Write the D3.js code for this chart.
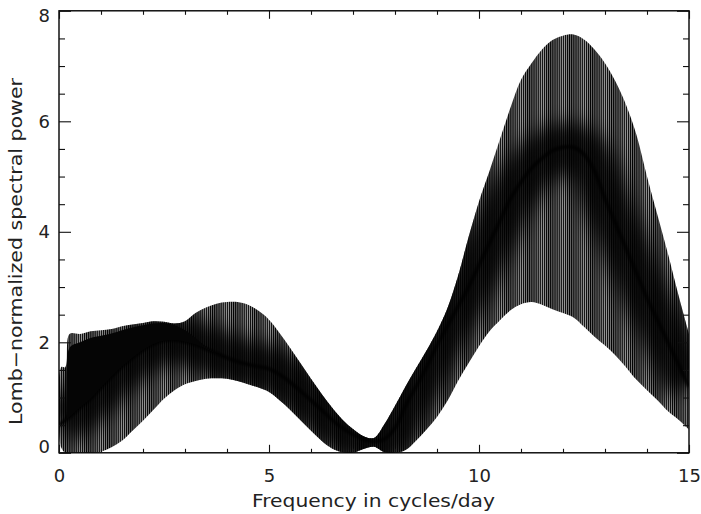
<!DOCTYPE html>
<html><head><meta charset="utf-8">
<script src="https://cdn.jsdelivr.net/npm/d3@7"></script>
<style>body{margin:0;background:#fff}</style>
</head><body>
<svg id="c" width="701" height="514"></svg>
<script>
// ---- data (frequency in cycles/day, Lomb power) ----
const freq = [0,0.05,0.15,0.25,0.5,0.75,1,1.25,1.5,1.75,2,2.25,2.5,2.75,3,3.25,3.5,3.75,4,4.25,4.5,4.75,5,5.25,5.5,5.75,6,6.25,6.5,6.75,7,7.25,7.5,7.75,8,8.25,8.5,8.75,9,9.25,9.5,9.75,10,10.25,10.5,10.75,11,11.25,11.5,11.75,12,12.25,12.5,12.75,13,13.25,13.5,13.75,14,14.25,14.5,14.75,15];
// upper envelope of the oscillating periodogram
const upper = [0.5,1.55,1.55,2.15,2.15,2.2,2.22,2.24,2.29,2.32,2.35,2.38,2.37,2.34,2.38,2.53,2.63,2.7,2.73,2.73,2.68,2.57,2.41,2.17,1.9,1.62,1.34,1.07,0.82,0.6,0.43,0.3,0.27,0.52,0.85,1.2,1.53,1.85,2.2,2.62,3.2,3.9,4.55,5.1,5.68,6.25,6.75,7.05,7.3,7.47,7.55,7.57,7.48,7.3,7.05,6.72,6.3,5.75,5.0,4.3,3.6,2.85,2.15];
// lower envelope
const lower = [0.5,0.1,0,0,0,0,0.02,0.1,0.22,0.4,0.58,0.78,0.98,1.13,1.24,1.3,1.34,1.35,1.34,1.3,1.24,1.18,1.1,0.95,0.78,0.59,0.4,0.22,0.08,0.01,0,0.07,0.11,0.01,0,0.05,0.22,0.42,0.65,0.94,1.3,1.62,1.93,2.2,2.4,2.58,2.69,2.73,2.68,2.6,2.53,2.45,2.28,2.1,1.94,1.76,1.55,1.32,1.13,0.95,0.75,0.6,0.42];
// dense (dark) band inside the oscillation
const band = [0.5,0.53,0.59,0.65,0.82,0.98,1.18,1.38,1.56,1.72,1.86,1.97,2.03,2.04,2.01,1.96,1.88,1.8,1.72,1.65,1.6,1.56,1.52,1.42,1.28,1.12,0.95,0.78,0.6,0.45,0.33,0.25,0.2,0.25,0.45,0.85,1.2,1.55,1.95,2.3,2.65,3.0,3.4,3.8,4.2,4.6,4.9,5.15,5.33,5.47,5.53,5.53,5.4,5.1,4.6,4.15,3.7,3.25,2.8,2.4,2.0,1.6,1.2];
// top of the solid dark region at low frequency (aligned with freq[0..18])
const darkTop = [0.5,0.53,0.6,1.9,2.0,2.08,2.12,2.16,2.22,2.27,2.31,2.34,2.35,2.31,2.22,2.08,1.92,1.8,1.72];

const xMajor = [0,5,10,15];
const xMajorLabels = ["0","5","10","15"];
const xMinor = [1,2,3,4,6,7,8,9,11,12,13,14];
const yMajor = [0,2,4,6,8];
const yMajorLabels = ["0","2","4","6","8"];
const yMinor = [0.5,1,1.5,2.5,3,3.5,4.5,5,5.5,6.5,7,7.5];
const xTitle = "Frequency in cycles/day";
const yTitle = "Lomb\u2212normalized spectral power";

// ---- drawing ----
const L = 59, R = 689, T = 10.8, B = 452.8;
const svg = d3.select("#c");
const x = d3.scaleLinear().domain([0, 15]).range([L, R]);
const y = d3.scaleLinear().domain([0, 8]).range([B, T]);
const FONT = "'DejaVu Sans', sans-serif";

const defs = svg.append("defs");
const pat = defs.append("pattern").attr("id", "stripes")
  .attr("patternUnits", "userSpaceOnUse").attr("width", 2.1).attr("height", 20);
pat.append("rect").attr("width", 2.1).attr("height", 20).attr("fill", "#9c9c9c");
pat.append("rect").attr("width", 1.2).attr("height", 20).attr("fill", "#000");
defs.append("clipPath").attr("id", "plotclip").append("rect")
  .attr("x", L).attr("y", T).attr("width", R - L).attr("height", B - T);
const blur = defs.append("filter").attr("id", "blur")
  .attr("x", "-10%").attr("y", "-50%").attr("width", "120%").attr("height", "200%");
blur.append("feGaussianBlur").attr("stdDeviation", 9);
const blur2 = defs.append("filter").attr("id", "blur2")
  .attr("x", "-10%").attr("y", "-50%").attr("width", "120%").attr("height", "200%");
blur2.append("feGaussianBlur").attr("stdDeviation", 1.2);

const rows = freq.map((f, i) => ({f, hi: upper[i], lo: lower[i], m: band[i]}));
const darkRows = darkTop.map((v, i) => ({f: freq[i], hi: v, lo: band[i]}));

const curve = d3.curveCatmullRom.alpha(0.5);
const area = d3.area().x(d => x(d.f)).y0(d => y(d.lo)).y1(d => y(d.hi)).curve(curve);
const line = d3.line().x(d => x(d.f)).y(d => y(d.m)).curve(curve);

const areaClip = defs.append("clipPath").attr("id", "areaclip");
areaClip.append("path").attr("d", area(rows));

const g = svg.append("g").attr("clip-path", "url(#plotclip)");
g.append("path").attr("d", area(rows)).attr("fill", "url(#stripes)");

const gb = g.append("g").attr("clip-path", "url(#areaclip)");
gb.append("path").attr("d", line(rows)).attr("fill", "none")
  .attr("stroke", "#000").attr("stroke-opacity", 0.85).attr("stroke-width", 50)
  .attr("filter", "url(#blur)");
gb.append("path").attr("d", line(rows)).attr("fill", "none")
  .attr("stroke", "#000").attr("stroke-opacity", 0.8).attr("stroke-width", 4)
  .attr("filter", "url(#blur2)");
gb.append("path").attr("d", area(darkRows)).attr("fill", "#050505");

// frame
svg.append("rect").attr("x", L).attr("y", T).attr("width", R - L).attr("height", B - T)
  .attr("fill", "none").attr("stroke", "#000").attr("stroke-width", 1.4);

function styleAxis(sel) {
  sel.select(".domain").remove();
  sel.selectAll("line").attr("stroke", "#111").attr("stroke-width", 1.1);
  sel.selectAll("text").attr("font-family", FONT).attr("font-size", 18)
    .attr("fill", "#222");
}
// bottom
svg.append("g").attr("transform", `translate(0,${B})`)
  .call(d3.axisBottom(x).tickValues(xMinor).tickSize(-4).tickFormat("")).call(styleAxis);
svg.append("g").attr("transform", `translate(0,${B})`)
  .call(d3.axisBottom(x).tickValues(xMajor).tickSize(-8).tickPadding(16)
    .tickFormat((d, i) => xMajorLabels[i])).call(styleAxis);
// top
svg.append("g").attr("transform", `translate(0,${T})`)
  .call(d3.axisTop(x).tickValues(xMinor).tickSize(-4).tickFormat("")).call(styleAxis);
svg.append("g").attr("transform", `translate(0,${T})`)
  .call(d3.axisTop(x).tickValues(xMajor).tickSize(-8).tickFormat("")).call(styleAxis);
// left
svg.append("g").attr("transform", `translate(${L},0)`)
  .call(d3.axisLeft(y).tickValues(yMinor).tickSize(-6).tickFormat("")).call(styleAxis);
const yl = svg.append("g").attr("transform", `translate(${L},0)`)
  .call(d3.axisLeft(y).tickValues(yMajor).tickSize(-12).tickPadding(9)
    .tickFormat((d, i) => yMajorLabels[i])).call(styleAxis);
yl.selectAll(".tick text").attr("dy", d => d === 0 ? "-0.0em" : d === 8 ? "0.62em" : "0.34em");
// right
svg.append("g").attr("transform", `translate(${R},0)`)
  .call(d3.axisRight(y).tickValues(yMinor).tickSize(-6).tickFormat("")).call(styleAxis);
svg.append("g").attr("transform", `translate(${R},0)`)
  .call(d3.axisRight(y).tickValues(yMajor).tickSize(-12).tickFormat("")).call(styleAxis);

// titles
svg.append("text").attr("x", 373.5).attr("y", 506.5).attr("text-anchor", "middle")
  .attr("font-family", FONT).attr("font-size", 18).attr("fill", "#222")
  .attr("textLength", 243).attr("lengthAdjust", "spacingAndGlyphs").text(xTitle);
svg.append("text").attr("transform", "translate(22,251.5) rotate(-90)").attr("text-anchor", "middle")
  .attr("font-family", FONT).attr("font-size", 18).attr("fill", "#222")
  .attr("textLength", 347).attr("lengthAdjust", "spacingAndGlyphs").text(yTitle);
</script>
</body></html>
